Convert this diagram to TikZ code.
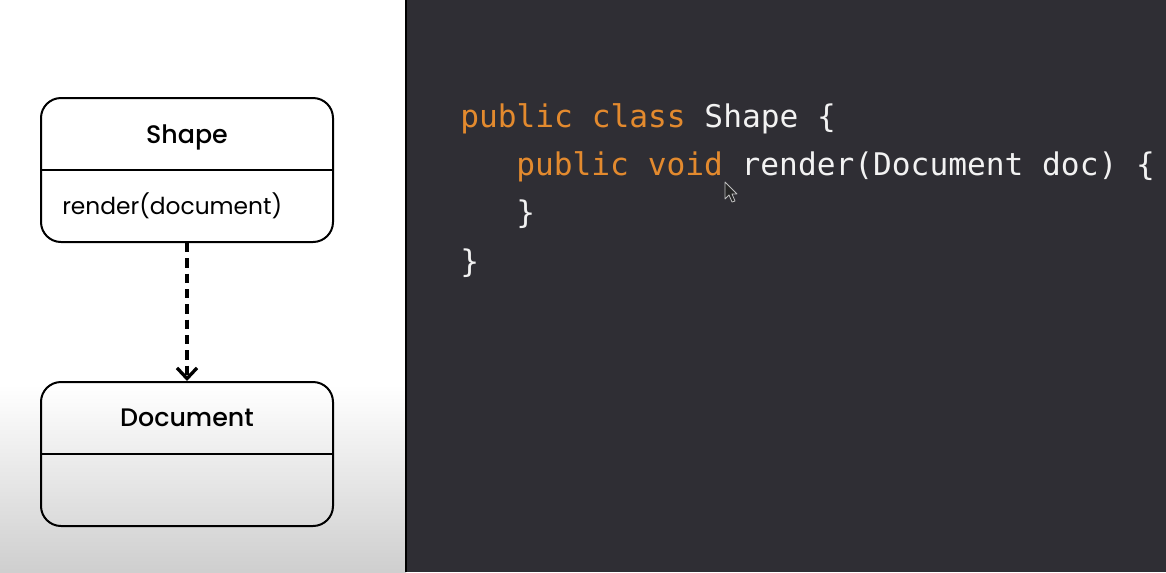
\documentclass[tikz,border=0pt]{standalone}
\usepackage{fontspec}
\setmainfont{Poppins}
\newfontfamily\titlefont{Poppins Medium}
\newfontfamily\codefont{DejaVu Sans Mono}
\usetikzlibrary{arrows.meta}
\definecolor{panelDark}{HTML}{2F2E34}
\definecolor{keywordOrange}{HTML}{E38A2E}
\definecolor{codeWhite}{HTML}{F2F2F2}
\tikzset{
    classBox/.style={draw, line width=1.5pt, rounded corners=15pt, minimum width=219pt, minimum height=108pt, inner sep=0pt},
    classText/.style={anchor=base, inner sep=0pt, font=\fontsize{17.5}{20}\selectfont},
    classTitle/.style={classText, font=\titlefont\fontsize{19}{21}\selectfont},
    codeLine/.style={anchor=base west, inner sep=0pt, text=codeWhite, font=\codefont\fontsize{23.4}{26}\selectfont}
}
\newcommand{\kw}[1]{\textcolor{keywordOrange}{#1}}
\begin{document}
\begin{tikzpicture}[x=0.75pt, y=-0.75pt]
    \useasboundingbox (0,0) rectangle (1166,572);
    % panels
    \fill[white] (0,0) rectangle (406,572);
    \shade[top color=white, bottom color=black!19] (0,385) rectangle (406,572);
    \fill[panelDark] (406,0) rectangle (1166,572);
    \draw[line width=1.5pt] (406,0) -- (406,572);
    % class boxes
    \node[classBox] (shapeBox) at (187,170) {};
    \draw[line width=1.5pt] (shapeBox.west) -- (shapeBox.east);
    \node[classTitle] (shapeTitle) at (187,143) {Shape};
    \node[classText, anchor=base west] (renderLabel) at (62,214) {render(document)};
    \node[classBox] (documentBox) at (187,454) {};
    \draw[line width=1.5pt] (documentBox.west) -- (documentBox.east);
    \node[classTitle] (documentTitle) at (187,426) {Document};
    \draw[line width=3pt, dash pattern=on 7pt off 4.5pt, -{Straight Barb[length=8pt, width=15pt, line width=2.5pt]}] (shapeBox.south) -- (documentBox.north);
    % code
    \node[codeLine] (codeClass) at (460,127) {\kw{public class} Shape \{};
    \node[codeLine] (codeRender) at (516,175) {\kw{public void} render(Document doc) \{};
    \node[codeLine] (codeInner) at (516,223) {\}};
    \node[codeLine] (codeOuter) at (460,272) {\}};
    % mouse pointer
    \draw[fill=black!85, draw=black!25, line width=0.6pt, line join=round] (725,182) -- (725,199) -- (729,195) -- (732,202) -- (735,201) -- (732,194) -- (737,194) -- cycle;
\end{tikzpicture}
\end{document}
